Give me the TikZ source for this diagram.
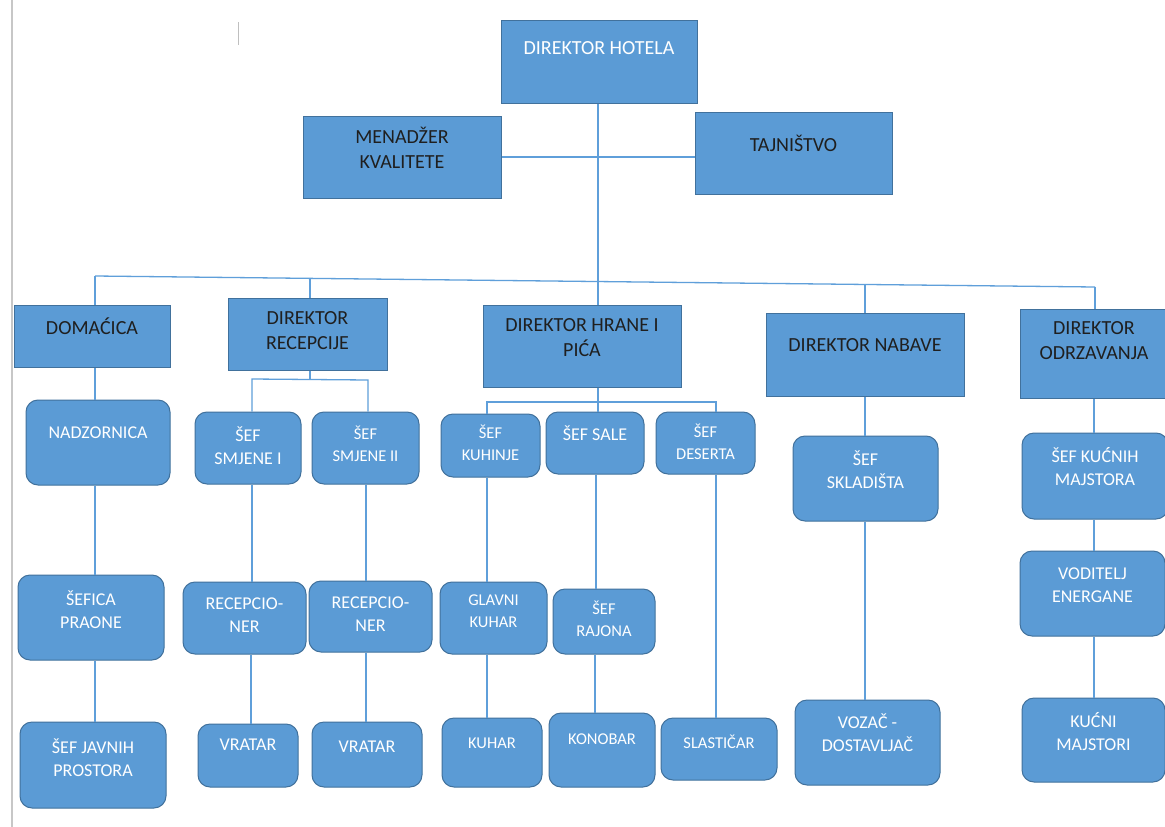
\documentclass[tikz,border=0pt]{standalone}
\usepackage{fontspec}
\setmainfont{Carlito}
\usetikzlibrary{fit}
\definecolor{fillb}{HTML}{5B9BD5}
\definecolor{edgeb}{HTML}{41719C}
\definecolor{lineb}{HTML}{5F9FDA}
\newcommand\orgbox[9]{%
  \node[#1, fit={(#4,#5) (#6,#7)}] (#3) {};
  \node[#2] (#3-t) at ({(#4+#6)/2},#8) {#9};}
\begin{document}
\begin{tikzpicture}[x=1pt,y=-1pt,
  sq/.style={rectangle, fill=fillb, draw=edgeb, line width=1pt, inner sep=0pt},
  rd/.style={sq, rounded corners=12pt},
  bt/.style={text=black!88, font=\fontsize{20}{25}\selectfont, align=center, inner sep=0pt},
  wt/.style={text=white, font=\fontsize{18}{23}\selectfont, align=center, inner sep=0pt},
  wbig/.style={text=white, font=\fontsize{20}{25}\selectfont, align=center, inner sep=0pt},
  sm/.style={font=\fontsize{16.5}{22}\selectfont},
  con/.style={draw=lineb, line width=1.3pt},
  edge/.style={draw=black!22, line width=2pt}]
\useasboundingbox (0,0) rectangle (1165,827);
\clip (0,0) rectangle (1165,827);
\fill[white] (0,0) rectangle (1165,827);
\draw[edge] (12,0) -- (12,827);
\draw[draw=black!25, line width=1pt] (238,22) -- (238,45);

% top level
\orgbox{sq}{wbig}{dh}{501}{20}{697}{103}{48}{DIREKTOR HOTELA}
\orgbox{sq}{bt}{mk}{303}{116}{501}{198}{148}{MENADŽER\\KVALITETE}
\orgbox{sq}{bt}{taj}{695}{112}{892}{194}{143}{TAJNIŠTVO}

% second level
\orgbox{sq}{bt}{dom}{14}{305}{170}{367}{326}{DOMAĆICA}
\orgbox{sq}{bt}{drec}{228}{298}{387}{370}{330.5}{DIREKTOR\\RECEPCIJE}
\orgbox{sq}{bt}{dhp}{483}{305}{681}{387}{337.5}{DIREKTOR HRANE I\\PIĆA}
\orgbox{sq}{bt}{dnab}{766}{313}{964}{396}{345}{DIREKTOR NABAVE}
\orgbox{sq}{bt}{dodr}{1020}{309}{1168}{398}{341}{DIREKTOR\\ODRZAVANJA}

% third level
\orgbox{rd}{wt}{nad}{26}{400}{170}{485}{433}{NADZORNICA}
\orgbox{rd}{wt}{ssi}{195}{412}{301}{484}{446}{ŠEF\\SMJENE I}
\orgbox{rd}{wt,sm}{ssii}{312}{412}{419}{484}{443.5}{ŠEF\\SMJENE II}
\orgbox{rd}{wt,sm}{skuh}{441}{414}{540}{477}{443}{ŠEF\\KUHINJE}
\orgbox{rd}{wt}{ssale}{546}{412}{644}{474}{433}{ŠEF SALE}
\orgbox{rd}{wt,sm}{sdes}{656}{412}{755}{474}{442}{ŠEF\\DESERTA}
\orgbox{rd}{wt}{sskl}{793}{436}{938}{521}{469.5}{ŠEF\\SKLADIŠTA}
\orgbox{rd}{wt}{skm}{1022}{433}{1168}{519}{466.5}{ŠEF KUĆNIH\\MAJSTORA}

% fourth level
\orgbox{rd}{wt}{sp}{18}{575}{164}{660}{609.5}{ŠEFICA\\PRAONE}
\orgbox{rd}{wt}{rec1}{183}{582}{306}{654}{615.5}{RECEPCIO-\\NER}
\orgbox{rd}{wt}{rec2}{309}{581}{432}{652}{614}{RECEPCIO-\\NER}
\orgbox{rd}{wt,sm}{gk}{440}{582}{547}{654}{611.5}{GLAVNI\\KUHAR}
\orgbox{rd}{wt,sm}{sraj}{553}{589}{655}{654}{619}{ŠEF\\RAJONA}
\orgbox{rd}{wt,sm}{sla}{661}{718}{777}{780}{742}{SLASTIČAR}
\orgbox{rd}{wt}{voz}{795}{700}{940}{785}{732.5}{VOZAČ -\\DOSTAVLJAČ}
\orgbox{rd}{wt}{ve}{1020}{551}{1165}{636}{585.5}{VODITELJ\\ENERGANE}

% fifth level
\orgbox{rd}{wt}{sjp}{20}{722}{166}{808}{758}{ŠEF JAVNIH\\PROSTORA}
\orgbox{rd}{wt}{vr1}{198}{724}{298}{787}{745}{VRATAR}
\orgbox{rd}{wt}{vr2}{312}{722}{422}{787}{747}{VRATAR}
\orgbox{rd}{wt,sm}{kuh}{442}{718}{542}{787}{743}{KUHAR}
\orgbox{rd}{wt,sm}{kon}{549}{713}{655}{787}{739}{KONOBAR}
\orgbox{rd}{wt}{km}{1022}{698}{1165}{782}{731.5}{KUĆNI\\MAJSTORI}

% bus coordinates
\coordinate (busL) at (95,276);
\coordinate (busR) at (1095,287);
\coordinate (b2) at (310,278.4);
\coordinate (b4) at (865,284.5);
\coordinate (rL) at (252,379);
\coordinate (rR) at (368,380);
\coordinate (fL) at (487,402);
\coordinate (fR) at (716,402);

% top connectors
\draw[con] (dh.south -| 598,0) -- (dhp.north -| 598,0);
\draw[con] (mk.east |- 0,157) -- (taj.west |- 0,157);
\draw[con] (busL) -- (busR);
\draw[con] (busL) -- (dom.north -| busL);
\draw[con] (b2) -- (drec.north -| b2);
\draw[con] (b4) -- (dnab.north -| b4);
\draw[con] (busR) -- (dodr.north -| busR);

% domacica column
\draw[con] (dom.south -| 95,0) -- (nad.north -| 95,0);
\draw[con] (nad.south -| 95,0) -- (sp.north -| 95,0);
\draw[con] (sp.south -| 95,0) -- (sjp.north -| 95,0);

% recepcija
\draw[con] (drec.south -| 310,0) -- (rL -| 310,0);
\draw[con] (ssi.north -| rL) -- (rL) -- (rR) -- (ssii.north -| rR);
\draw[con] (ssi.south -| 252,0) -- (rec1.north -| 252,0);
\draw[con] (rec1.south -| 251,0) -- (vr1.north -| 251,0);
\draw[con] (ssii.south -| 366,0) -- (rec2.north -| 366,0);
\draw[con] (rec2.south -| 366,0) -- (vr2.north -| 366,0);

% hrana i pica
\draw[con] (dhp.south -| 598,0) -- (ssale.north -| 598,0);
\draw[con] (skuh.north -| fL) -- (fL) -- (fR) -- (sdes.north -| fR);
\draw[con] (skuh.south -| 487,0) -- (gk.north -| 487,0);
\draw[con] (gk.south -| 487,0) -- (kuh.north -| 487,0);
\draw[con] (ssale.south -| 596,0) -- (sraj.north -| 596,0);
\draw[con] (sraj.south -| 595,0) -- (kon.north -| 595,0);
\draw[con] (sdes.south -| 716,0) -- (sla.north -| 716,0);

% nabava
\draw[con] (dnab.south -| 865,0) -- (sskl.north -| 865,0);
\draw[con] (sskl.south -| 865,0) -- (voz.north -| 865,0);

% odrzavanje
\draw[con] (dodr.south -| 1094,0) -- (skm.north -| 1094,0);
\draw[con] (skm.south -| 1094,0) -- (ve.north -| 1094,0);
\draw[con] (ve.south -| 1094,0) -- (km.north -| 1094,0);
\end{tikzpicture}
\end{document}
